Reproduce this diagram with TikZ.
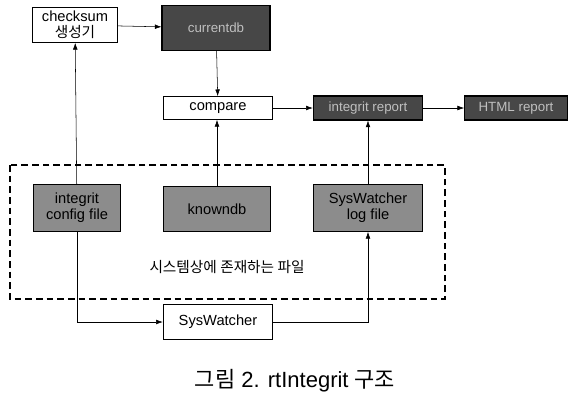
\documentclass[tikz,border=0pt]{standalone}
\usepackage{fontspec}
\setmainfont{Liberation Sans}
\newfontfamily\krfont{Noto Sans CJK KR}
\usetikzlibrary{arrows.meta,positioning}

\begin{document}
\begin{tikzpicture}[x=0.75pt,y=-0.75pt,>={Latex[length=5pt,width=3.5pt]},
 every node/.style={font=\fontsize{11}{12}\selectfont},
 box/.style={draw,thick,align=center,inner sep=1pt},
 filebox/.style={box,fill=black!45,text=black},
 darkbox/.style={box,fill=black!72,text=black!25,font=\fontsize{10}{11}\selectfont}]
\useasboundingbox (0,0) rectangle (573,401);
% upper row
\node[box,minimum width=64pt,minimum height=26pt](gen) at (75,25){checksum\\{\krfont 생성기}};
\node[darkbox,minimum width=81pt,minimum height=34pt](cur) at (216,28){currentdb};
\node[box,minimum width=82pt,minimum height=17pt](cmp) at (218,108){compare};
\node[darkbox,minimum width=82pt,minimum height=18pt](rep) at (368,108){integrit report};
\node[darkbox,minimum width=77pt,minimum height=18pt](html) at (516,108){HTML report};
% files on the system
\draw[thick,dash pattern=on 5pt off 3pt](10,165) rectangle (445,299);
\node[filebox,minimum width=65pt,minimum height=35pt](conf) at (77,208){integrit\\config file};
\node[filebox,minimum width=80pt,minimum height=34pt](kdb) at (217,209){knowndb};
\node[filebox,minimum width=82pt,minimum height=35pt](log) at (368,208){SysWatcher\\log file};
\node(sys) at (227,267){\krfont 시스템상에 존재하는 파일};
\node[box,minimum width=82pt,minimum height=26pt](sw) at (218,322){SysWatcher};
\node[font=\fontsize{16.5}{18}\selectfont](cap) at (295,381){{\krfont 그림} 2. rtIntegrit {\krfont 구조}};
% connectors
\draw[->](gen)--(cur);
\draw[->](cur)--(cmp);
\draw[->](cmp)--(rep);
\draw[->](rep)--(html);
\draw[->](conf)--(gen);
\draw[->](kdb)--(cmp.south-|kdb);
\draw[->](log)--(rep);
\draw[->](conf.south)|-(sw.west);
\draw[->](sw.east)-|(log.south);
\end{tikzpicture}
\end{document}
